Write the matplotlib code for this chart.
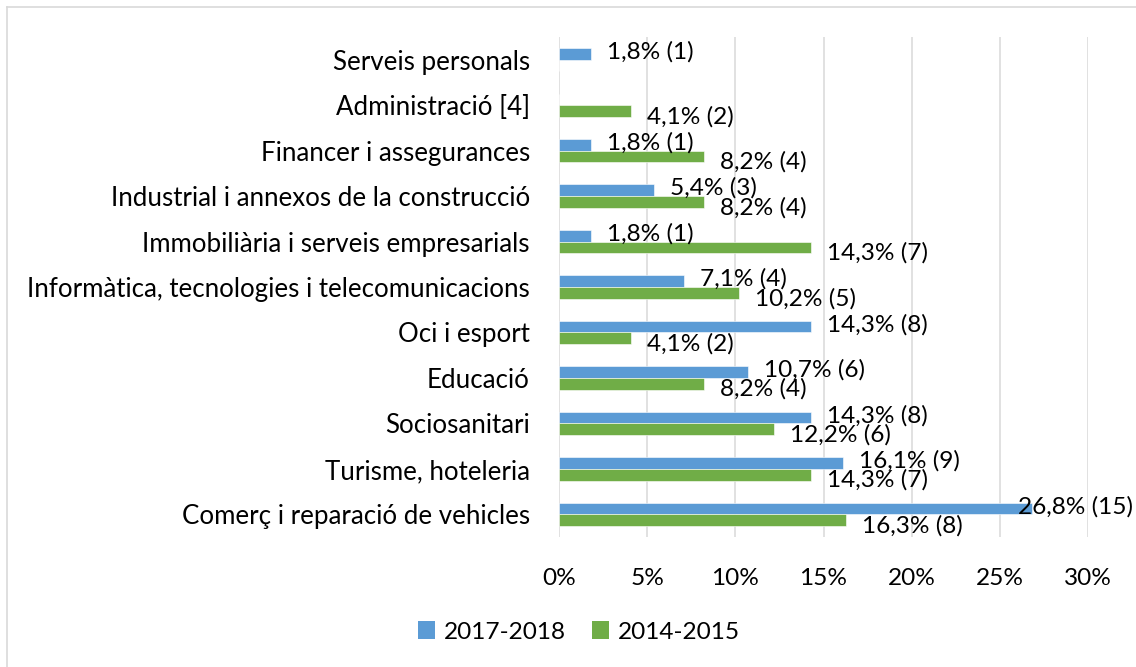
"""Sector distribution, 2017-2018 vs 2014-2015, as grouped horizontal bars."""

import matplotlib
matplotlib.use("Agg")
import matplotlib.pyplot as plt
from matplotlib.lines import Line2D
from matplotlib.patches import Patch
import numpy as np

# categories listed bottom to top, as drawn on the y axis
CATEGORIES = [
    "Comerç i reparació de vehicles",
    "Turisme, hoteleria",
    "Sociosanitari",
    "Educació",
    "Oci i esport",
    "Informàtica, tecnologies i telecomunicacions",
    "Immobiliària i serveis empresarials",
    "Industrial i annexos de la construcció",
    "Financer i assegurances",
    "Administració [4]",
    "Serveis personals",
]
PCT_2017 = [26.8, 16.1, 14.3, 10.7, 14.3, 7.1, 1.8, 5.4, 1.8, None, 1.8]
N_2017 = [15, 9, 8, 6, 8, 4, 1, 3, 1, None, 1]
PCT_2014 = [16.3, 14.3, 12.2, 8.2, 4.1, 10.2, 14.3, 8.2, 8.2, 4.1, None]
N_2014 = [8, 7, 6, 4, 2, 5, 7, 4, 4, 2, None]
XTICKS = [0, 5, 10, 15, 20, 25, 30]
SERIES = ["2017-2018", "2014-2015"]

BLUE = "#5B9BD5"
GREEN = "#70AD47"
GRID = "#D9D9D9"
FONT = "Lato"
FS = 17.6        # numbers, legend
FS_CAT = 18.6    # category names


def _fmt(pct, n):
    return f"{pct:.1f}".replace(".", ",") + f"% ({n})"


def main():
    plt.rcParams["font.family"] = [FONT, "DejaVu Sans"]
    fig = plt.figure(figsize=(11.36, 6.67), dpi=100)
    W, H = 1136, 667
    ax = fig.add_axes([559 / W, 1 - 537 / H, (1088 - 559) / W, 500 / H])

    y = np.arange(len(CATEGORIES))
    h = 0.257
    v17 = np.array([np.nan if v is None else v for v in PCT_2017])
    v14 = np.array([np.nan if v is None else v for v in PCT_2014])
    ax.barh(y + h / 2, np.nan_to_num(v17), height=h, color=BLUE,
            edgecolor="white", linewidth=0.4, zorder=3)
    ax.barh(y - h / 2, np.nan_to_num(v14), height=h, color=GREEN,
            edgecolor="white", linewidth=0.4, zorder=3)

    ax.set_xlim(0, 30)
    ax.set_ylim(-0.5, len(CATEGORIES) - 0.5)
    ax.set_xticks(XTICKS)
    ax.set_xticklabels([f"{t}%" for t in XTICKS], fontsize=FS)
    ax.set_yticks(y)
    ax.set_yticklabels(CATEGORIES, fontsize=FS_CAT)
    ax.tick_params(axis="both", length=0, colors="black")
    ax.tick_params(axis="x", pad=22)
    ax.tick_params(axis="y", pad=21)
    for s in ax.spines.values():
        s.set_visible(False)
    ax.grid(axis="x", color=GRID, linewidth=1.1, zorder=0)
    ax.set_axisbelow(True)

    # data labels: a little past the bar end, blue slightly up, green below
    labels = []
    for vals, counts, off, dy in ((PCT_2017, N_2017, h / 2, 1.5),
                                  (PCT_2014, N_2014, -h / 2, -4.0)):
        for i, (v, n) in enumerate(zip(vals, counts)):
            if v is None:
                continue
            t = ax.annotate(_fmt(v, n), xy=(v, i + off), xytext=(11.5, dy),
                            textcoords="offset points", ha="left",
                            va="center", fontsize=FS, zorder=4,
                            annotation_clip=False)
            labels.append(t)

    # keep labels inside the picture
    fig.canvas.draw()
    r = fig.canvas.get_renderer()
    for t in labels:
        bb = t.get_window_extent(r)
        if bb.x1 > W - 3:
            dx, dy = t.xyann
            t.xyann = (dx - (bb.x1 - (W - 3)) * 72 / fig.dpi, dy)

    handles = [Patch(facecolor=BLUE, label=SERIES[0]),
               Patch(facecolor=GREEN, label=SERIES[1])]
    fig.legend(handles=handles, loc="center", bbox_to_anchor=(579 / W, 1 - 632 / H),
               ncol=2, frameon=False, fontsize=FS, handlelength=0.7,
               handleheight=0.7, handletextpad=0.35, columnspacing=1.1)

    # chart border (top and left edges visible)
    fig.add_artist(Line2D([7 / W, 1], [1 - 7 / H, 1 - 7 / H], color=GRID, lw=1.2))
    fig.add_artist(Line2D([7 / W, 7 / W], [0, 1 - 7 / H], color=GRID, lw=1.2))

    fig.savefig("out.png", dpi=100)
    plt.close(fig)


if __name__ == "__main__":
    main()
